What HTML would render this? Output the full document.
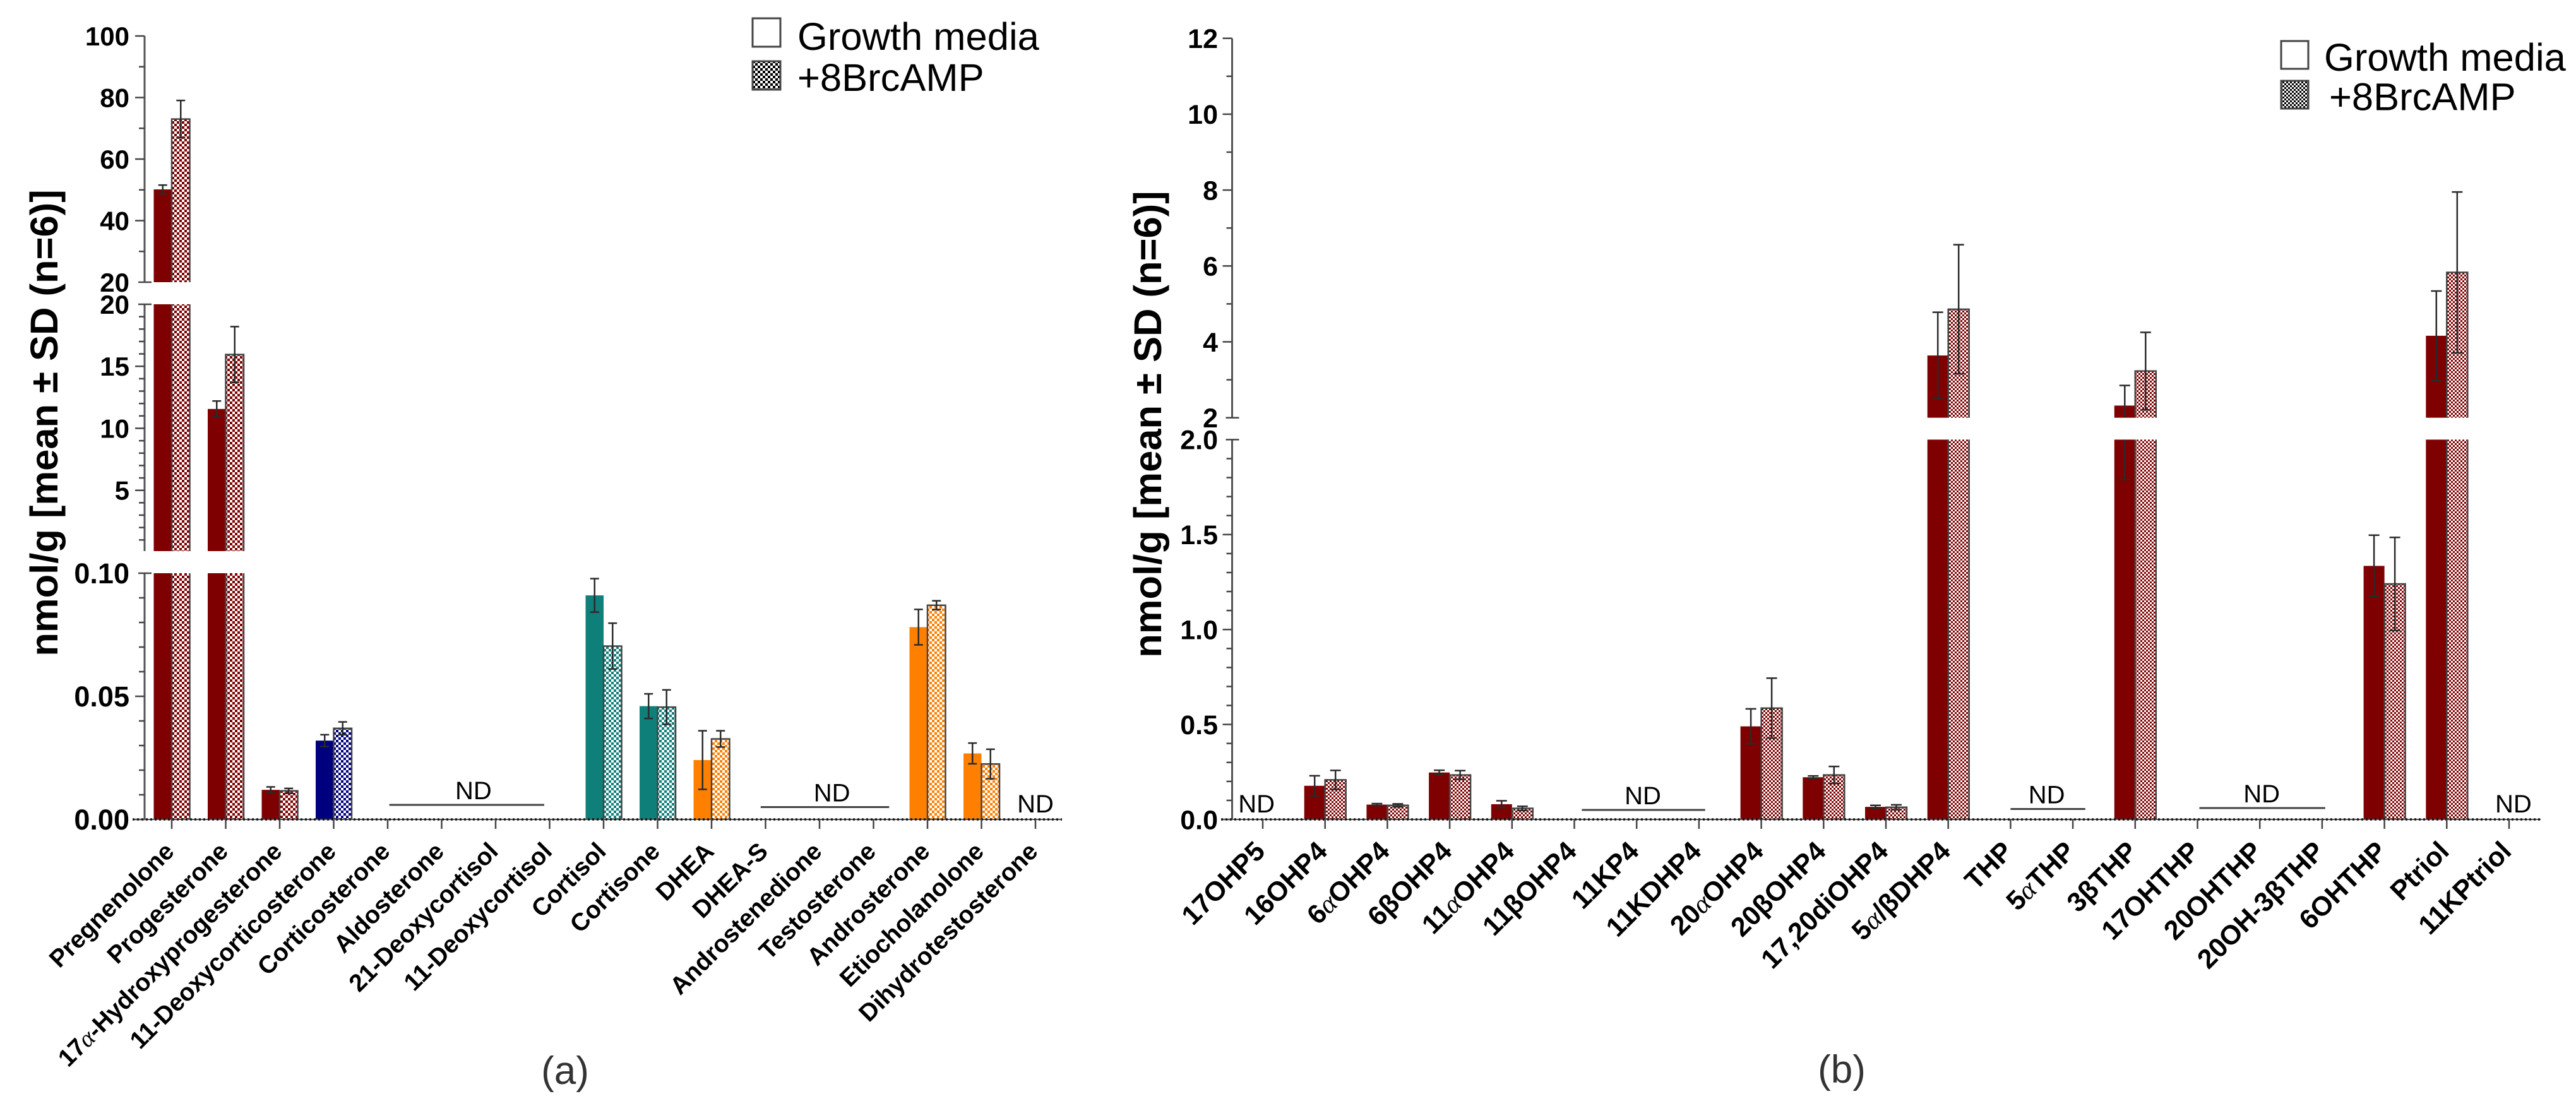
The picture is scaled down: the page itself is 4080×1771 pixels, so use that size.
<!DOCTYPE html>
<html lang="en">
<head>
<meta charset="utf-8">
<title>Steroid levels in growth media and +8BrcAMP</title>
<style>
html,body{margin:0;padding:0;background:#fff}
svg{display:block}
text{font-family:"Liberation Sans",sans-serif;fill:#000}
</style>
</head>
<body>
<svg id="figure" xmlns="http://www.w3.org/2000/svg" width="4080" height="1771" viewBox="0 0 4080 1771">
  <rect x="0" y="0" width="4080" height="1771" fill="#fff"/>
  <defs id="defs"></defs>
  <g id="panel-a"></g>
  <g id="panel-b"></g>
  <text x="895" y="1717" font-size="62" text-anchor="middle" style="fill:#333">(a)</text>
  <text x="2917" y="1715" font-size="62" text-anchor="middle" style="fill:#333">(b)</text>
</svg>
<script>
// ---------- Panel (a) data ----------
const categoriesA = ['Pregnenolone','Progesterone','17α-Hydroxyprogesterone','11-Deoxycorticosterone','Corticosterone','Aldosterone','21-Deoxycortisol','11-Deoxycortisol','Cortisol','Cortisone','DHEA','DHEA-S','Androstenedione','Testosterone','Androsterone','Etiocholanolone','Dihydrotestosterone'];
const groupsA = ['red','red','red','blue','blue','blue','blue','blue','teal','teal','orange','orange','orange','orange','orange','orange','orange'];
const growthA = [50.15,11.56,0.012,0.032,null,null,null,null,0.091,0.046,0.0241,null,null,null,0.0781,0.0268,null];
const growthSdA = [1.4,0.64,0.0012,0.0024,null,null,null,null,0.0068,0.005,0.0119,null,null,null,0.0072,0.0042,null];
const brcampA = [73,15.95,0.0116,0.037,null,null,null,null,0.0704,0.0456,0.0327,null,null,null,0.087,0.0225,null];
const brcampSdA = [6.05,2.25,0.001,0.0026,null,null,null,null,0.0093,0.007,0.0033,null,null,null,0.0018,0.006,null];
const ticksUpperA = [100,80,60,40,20];
const ticksMiddleA = [20,15,10,5];
const ticksLowerA = ['0.10','0.05','0.00'];
const ndCentreA = [5.59,12.23,16];
const ndFromA = [4.03,10.91,16];
const ndToA = [6.9,13.29,16];
const ndLevelA = [0.0059,0.005,0];

// ---------- Panel (b) data ----------
const categoriesB = ['17OHP5','16OHP4','6αOHP4','6βOHP4','11αOHP4','11βOHP4','11KP4','11KDHP4','20αOHP4','20βOHP4','17,20diOHP4','5α/βDHP4','THP','5αTHP','3βTHP','17OHTHP','20OHTHP','20OH-3βTHP','6OHTHP','Ptriol','11KPtriol'];
const growthB = [null,0.177,0.078,0.247,0.08,null,null,null,0.49,0.222,0.066,3.64,null,null,2.32,null,null,null,1.335,4.16,null];
const growthSdB = [null,0.053,0.005,0.012,0.018,null,null,null,0.092,0.007,0.008,1.14,null,null,0.53,null,null,null,0.162,1.18,null];
const brcampB = [null,0.208,0.074,0.234,0.058,null,null,null,0.586,0.234,0.064,4.86,null,null,3.23,null,null,null,1.24,5.83,null];
const brcampSdB = [null,0.05,0.008,0.023,0.011,null,null,null,0.158,0.045,0.013,1.7,null,null,1.02,null,null,null,0.245,2.12,null];
const ticksUpperB = [12,10,8,6,4,2];
const ticksLowerB = ['2.0','1.5','1.0','0.5','0.0'];
const ndCentreB = [-0.1,6.1,12.58,16.03,20.07];
const ndFromB = [0,5.12,12,15.03,20];
const ndToB = [0,7.1,13.2,17.05,20];
const ndLevelB = [0,0.05,0.055,0.06,0];

const legendLabels = ['Growth media','+8BrcAMP'];
const axisTitle = 'nmol/g [mean ± SD (n=6)]';

const SVGNS = 'http://www.w3.org/2000/svg';
const defs = document.getElementById('defs');
const palette = {red:'#7f0000', blue:'#00007f', teal:'#0f7f7a', orange:'#ff8000', black:'#000'};

function node(parent, tag, attrs, text) {
  const el = document.createElementNS(SVGNS, tag);
  for (const k in attrs) el.setAttribute(k, attrs[k]);
  if (text !== undefined) el.textContent = text;
  parent.appendChild(el);
  return el;
}
function slug(s) {
  return String(s).toLowerCase().replace(/α/g,'alpha').replace(/β/g,'beta').replace(/[^a-z0-9]+/g,'-').replace(/^-|-$/g,'');
}
function hatch(id, color, cell) {
  const p = node(defs, 'pattern', {id:id, width:cell*2, height:cell*2, patternUnits:'userSpaceOnUse'});
  node(p, 'rect', {x:0, y:0, width:cell*2, height:cell*2, fill:'#fff'});
  node(p, 'rect', {x:0, y:0, width:cell, height:cell, fill:color});
  node(p, 'rect', {x:cell, y:cell, width:cell, height:cell, fill:color});
}
for (const c in palette) {
  hatch('hatch-a-' + c, palette[c], 4);
  hatch('hatch-b-' + c, palette[c], 3);
}

function addGreek(textEl, label) {
  label.split(/(α)/).forEach(function (part) {
    if (!part) return;
    const ts = document.createElementNS(SVGNS, 'tspan');
    ts.textContent = part;
    if (part === 'α') {
      ts.setAttribute('font-family', '"Liberation Serif", serif');
      ts.setAttribute('font-style', 'italic');
      ts.setAttribute('font-weight', 'normal');
    }
    textEl.appendChild(ts);
  });
}

function drawPanel(cfg) {
  const g = document.getElementById(cfg.id);
  const tickX = function (i) { return cfg.firstTick + cfg.step * i; };
  const low = cfg.sections[cfg.sections.length - 1];
  const yIn = function (s, v) { return s.yLo + (v - s.lo) * (s.yHi - s.yLo) / (s.hi - s.lo); };
  const baseY = low.yLo;

  // y axis
  cfg.sections.forEach(function (s, si) {
    const axis = node(g, 'line', {x1:cfg.axisX, x2:cfg.axisX, y1:s.yLo, y2:s.yHi, stroke:'#555', 'stroke-width':3});
    
    
    for (let m = 0; m < s.minor.length; m++) {
      const y = yIn(s, s.minor[m]);
      const t = node(g, 'line', {x1:cfg.axisX - 9, x2:cfg.axisX, y1:y, y2:y, stroke:'#444', 'stroke-width':2.5});
      
      
    }
    s.labels.forEach(function (lab) {
      const v = parseFloat(lab);
      const y = yIn(s, v);
      const isBreak = (v === s.hi && si > 0) || (v === s.lo && si < cfg.sections.length - 1);
      const t = node(g, 'line', {x1:cfg.axisX - (isBreak ? 10 : 15), x2:cfg.axisX + (isBreak ? 11 : 0), y1:y, y2:y, stroke:'#444', 'stroke-width':2.5});
      
      
      const txt = node(g, 'text', {x:cfg.labelX, y:y + s.labelSize * 0.355, 'text-anchor':'end', 'font-size':s.labelSize, 'font-weight':'bold'}, lab);
      
      
    });
  });

  // axis title
  const title = node(g, 'text', {x:cfg.titleX, y:cfg.titleY, transform:'rotate(-90 ' + cfg.titleX + ' ' + cfg.titleY + ')', 'text-anchor':'middle', 'font-size':61.5, 'font-weight':'bold'}, axisTitle);
  
  

  // bars
  function bar(i, value, kind) {
    if (value === null) return;
    const color = palette[cfg.groups ? cfg.groups[i] : 'red'];
    const x0 = kind === 'growth' ? tickX(i) - cfg.barW : tickX(i);
    cfg.sections.forEach(function (s) {
      if (value <= s.lo) return;
      const yB = yIn(s, s.lo);
      const top = Math.min(value, s.hi);
      const yT = yIn(s, top);
      const r = node(g, 'rect', {x:x0, y:yT, width:cfg.barW, height:yB - yT, fill: kind === 'growth' ? color : 'url(#hatch-' + cfg.hatch + '-' + (cfg.groups ? cfg.groups[i] : 'red') + ')'});
      
      
      if (kind !== 'growth') {
        let d = 'M' + x0 + ' ' + yB + 'V' + yT;
        if (value <= s.hi) d += 'H' + (x0 + cfg.barW); else d += 'M' + (x0 + cfg.barW) + ' ' + yT;
        d += 'V' + yB;
        const o = node(g, 'path', {d:d, fill:'none', stroke:'#444', 'stroke-width':2.5});
        
        
      }
    });
  }
  function errorBar(i, value, sd, kind) {
    if (value === null) return;
    const cx = kind === 'growth' ? tickX(i) - cfg.barW / 2 : tickX(i) + cfg.barW / 2;
    const hiV = value + sd, loV = value - sd;
    cfg.sections.forEach(function (s) {
      const a = Math.max(loV, s.lo), b = Math.min(hiV, s.hi);
      if (a >= b) return;
      const stem = node(g, 'line', {x1:cx, x2:cx, y1:yIn(s, a), y2:yIn(s, b), stroke:'#2a2a2a', 'stroke-width':2.5});
      
      
      [hiV, loV].forEach(function (v) {
        if (v < s.lo || v > s.hi) return;
        const y = yIn(s, v);
        const cap = node(g, 'line', {x1:cx - cfg.capW, x2:cx + cfg.capW, y1:y, y2:y, stroke:'#2a2a2a', 'stroke-width':2.5});
        
        
      });
    });
  }
  cfg.categories.forEach(function (c, i) {
    bar(i, cfg.growth[i], 'growth');
    bar(i, cfg.brcamp[i], 'brcamp');
  });
  cfg.categories.forEach(function (c, i) {
    errorBar(i, cfg.growth[i], cfg.growthSd[i], 'growth');
    errorBar(i, cfg.brcamp[i], cfg.brcampSd[i], 'brcamp');
  });

  // x axis
  const xAxis = node(g, 'line', {x1:cfg.xFrom, x2:cfg.xTo, y1:baseY, y2:baseY, stroke:'#555', 'stroke-width':2});
  
  
  const xDots = node(g, 'line', {x1:cfg.xFrom, x2:cfg.xTo, y1:baseY, y2:baseY, stroke:'#111', 'stroke-width':3.5, 'stroke-dasharray':'3 4'});
  
  

  cfg.categories.forEach(function (c, i) {
    const x = tickX(i);
    const t = node(g, 'line', {x1:x, x2:x, y1:baseY, y2:baseY + 15, stroke:'#444', 'stroke-width':2.5});
    
    
    const lx = x + 6, ly = cfg.xLabelY;
    const txt = node(g, 'text', {x:lx, y:ly, transform:'rotate(-45 ' + lx + ' ' + ly + ')', 'text-anchor':'end', 'font-size':cfg.xLabelSize, 'font-weight':'bold'});
    addGreek(txt, c);
    
    
  });

  // ND annotations
  cfg.ndCentre.forEach(function (centre, n) {
    const level = cfg.ndLevel[n];
    const hasLine = cfg.ndTo[n] > cfg.ndFrom[n];
    const y = yIn(low, level);
    if (hasLine) {
      const ln = node(g, 'line', {x1:tickX(cfg.ndFrom[n]), x2:tickX(cfg.ndTo[n]), y1:y, y2:y, stroke:'#444', 'stroke-width':3});
      
      
    }
    const txt = node(g, 'text', {x:tickX(centre), y: hasLine ? y - 9 : baseY - 11, 'text-anchor':'middle', 'font-size':cfg.ndSize}, 'ND');
    
    
  });

  // legend
  legendLabels.forEach(function (lab, n) {
    const box = cfg.legend.boxes[n];
    const r = node(g, 'rect', {x:cfg.legend.boxX, y:box, width:cfg.legend.boxW, height:cfg.legend.boxH, fill: n === 0 ? '#fff' : 'url(#hatch-' + cfg.hatch + '-black)', stroke: '#444', 'stroke-width':3});
    
    
    const t = node(g, 'text', {x:cfg.legend.textX[n], y:cfg.legend.baselines[n], 'font-size':61.5}, lab);
    
    
  });
}

function range(start, stop, step, skip) {
  const out = [];
  const n = Math.round((stop - start) / step);
  for (let i = 0; i <= n; i++) {
    const v = start + i * step;
    if (!skip(i)) out.push(v);
  }
  return out;
}

drawPanel({
  id:'panel-a', hatch:'a',
  categories:categoriesA, groups:groupsA,
  growth:growthA, growthSd:growthSdA, brcamp:brcampA, brcampSd:brcampSdA,
  firstTick:272, step:85.5, barW:28.5, capW:7,
  axisX:229, labelX:205, titleX:91, titleY:670,
  xFrom:210, xTo:1682, xLabelY:1351, xLabelSize:39, ndSize:40,
  sections:[
    {lo:20, hi:100, yLo:447, yHi:57, labels:ticksUpperA.map(String), labelSize:42, minor:range(30,90,20,function(){return false;})},
    {lo:0.1, hi:20, yLo:873, yHi:482, labels:ticksMiddleA.map(String), labelSize:42, minor:range(1,19,1,function(i){return (i+1)%5===0;})},
    {lo:0, hi:0.1, yLo:1298, yHi:908, labels:ticksLowerA, labelSize:45, minor:range(0.01,0.09,0.01,function(i){return i===4;})}
  ],
  ndCentre:ndCentreA, ndFrom:ndFromA, ndTo:ndToA, ndLevel:ndLevelA,
  legend:{boxX:1192, boxW:44, boxH:45, boxes:[29,97], textX:[1263,1263], baselines:[79,144]}
});

drawPanel({
  id:'panel-b', hatch:'b',
  categories:categoriesB,
  growth:growthB, growthSd:growthSdB, brcamp:brcampB, brcampSd:brcampSdB,
  firstTick:2000, step:98.7, barW:33, capW:8.5,
  axisX:1951.5, labelX:1929, titleX:1839, titleY:672,
  xFrom:1934, xTo:4024, xLabelY:1351, xLabelSize:43, ndSize:40,
  sections:[
    {lo:2, hi:12, yLo:661.7, yHi:60.7, labels:ticksUpperB.map(String), labelSize:43, minor:range(3,11,2,function(){return false;})},
    {lo:0, hi:2, yLo:1298, yHi:696.4, labels:ticksLowerB, labelSize:43, minor:range(0.1,1.9,0.1,function(i){return (i+1)%5===0;})}
  ],
  ndCentre:ndCentreB, ndFrom:ndFromB, ndTo:ndToB, ndLevel:ndLevelB,
  legend:{boxX:3613, boxW:43, boxH:44, boxes:[65,128], textX:[3681,3689], baselines:[112,174.5]}
});
</script>
</body>
</html>
